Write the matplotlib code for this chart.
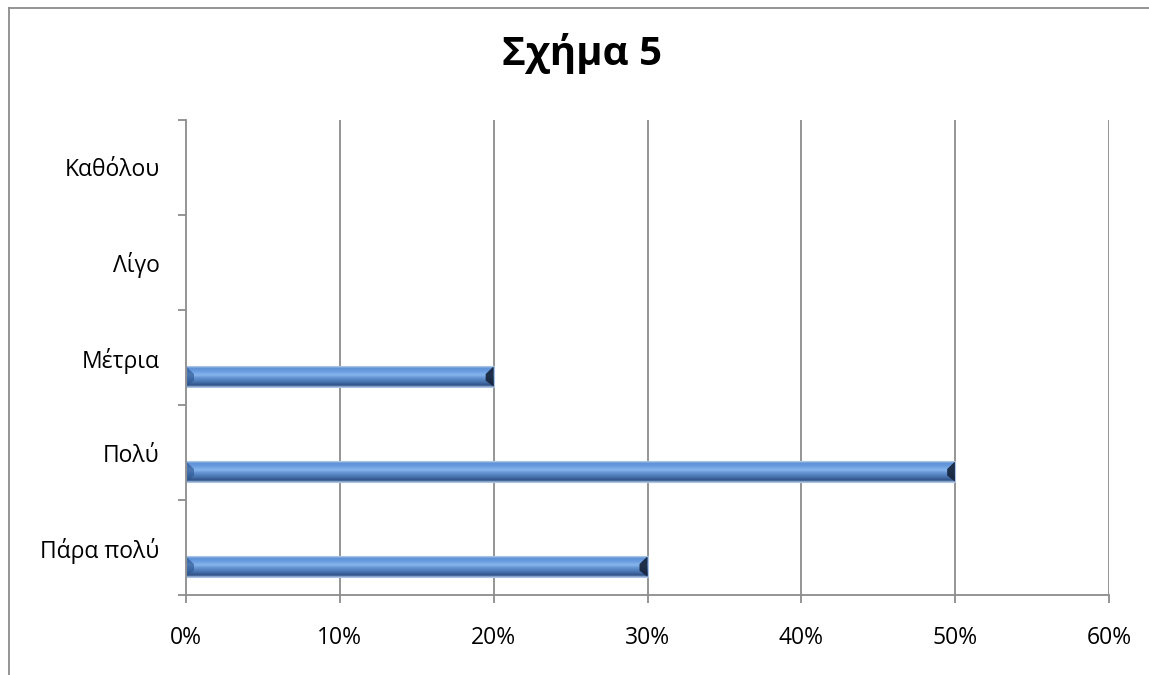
import numpy as np
import matplotlib
matplotlib.use("Agg")
import matplotlib.pyplot as plt
from matplotlib.colors import LinearSegmentedColormap
from matplotlib.patches import Polygon, Rectangle
from matplotlib.lines import Line2D

plt.rcParams['font.family'] = ['Open Sans', 'DejaVu Sans']

categories = ["Πάρα πολύ", "Πολύ", "Μέτρια", "Λίγο", "Καθόλου"]
values = [30, 50, 20, 0, 0]
xticks = [0, 10, 20, 30, 40, 50, 60]
xtick_labels = ["0%", "10%", "20%", "30%", "40%", "50%", "60%"]
title = "Σχήμα 5"

W, H = 1149, 675
fig = plt.figure(figsize=(W / 100, H / 100), dpi=100)
ax = fig.add_axes([186 / W, (H - 595) / H, (1109 - 186) / W, (595 - 120) / H])

# outer chart-area frame (left and top visible)
fig.add_artist(Line2D([9 / W, 9 / W], [0, (H - 8) / H], color="#8c8c8c", lw=1.3))
fig.add_artist(Line2D([9 / W, 1], [(H - 8) / H, (H - 8) / H], color="#8c8c8c", lw=1.3))

n = len(categories)
ax.set_xlim(0, 60)
ax.set_ylim(-0.5, n - 0.5)

# vertical gridlines
for xt in xticks[1:]:
    ax.axvline(xt, color="#8c8c8c", lw=1.3, zorder=1)

# gradient (top -> bottom)
grad_cmap = LinearSegmentedColormap.from_list(
    "bev", [(0.0, "#aac6ec"), (0.1, "#5d91d6"), (0.25, "#6a9de0"), (0.42, "#88b6ec"),
            (0.55, "#6595d5"), (0.75, "#4874b0"), (0.92, "#2f5187"), (1.0, "#9fb6d6")])
grad = np.linspace(0, 1, 64).reshape(-1, 1)

bar_h = 0.215
offset = -0.2
px_per_unit = (1109 - 186) / 60.0
cap = 8 / px_per_unit
for i, v in enumerate(values):
    if v <= 0:
        continue
    yc = i + offset
    y0, y1 = yc - bar_h / 2, yc + bar_h / 2
    ax.imshow(grad, cmap=grad_cmap, aspect="auto", extent=[0, v, y0, y1],
              origin="upper", interpolation="bilinear", zorder=3)
    # right bevel cap (dark)
    ax.add_patch(Polygon([(v, y1), (v - cap, yc + bar_h * 0.12), (v - cap, yc - bar_h * 0.2), (v, y0)],
                         closed=True, facecolor="#16243c", edgecolor="none", zorder=4, alpha=0.92))
    # left bevel cap
    ax.add_patch(Polygon([(0, y1), (cap, yc + bar_h * 0.12), (cap, yc - bar_h * 0.2), (0, y0)],
                         closed=True, facecolor="#2d568f", edgecolor="none", zorder=4, alpha=0.65))
    ax.add_patch(Rectangle((0, y0), v, bar_h, facecolor="none", edgecolor="#a9c3e6", lw=0.8, zorder=5))

ax.set_xticks(xticks)
ax.set_xticklabels(xtick_labels, fontsize=16.5, color="#000000")
ax.set_yticks(range(n))
ax.set_yticklabels(categories, fontsize=16.5, color="#000000")
ax.set_yticks(np.arange(-0.5, n, 1.0), minor=True)
ax.tick_params(axis="y", which="major", length=0, pad=19)
ax.tick_params(axis="y", which="minor", length=6, width=1.3, color="#8c8c8c", direction="out")
ax.tick_params(axis="x", which="major", length=6, width=1.3, color="#8c8c8c", direction="out", pad=16)

for s in ["top", "right"]:
    ax.spines[s].set_visible(False)
for s in ["left", "bottom"]:
    ax.spines[s].set_color("#8c8c8c")
    ax.spines[s].set_linewidth(1.3)
    ax.spines[s].set_zorder(6)

fig.text(582 / W, (H - 54) / H, title, ha="center", va="center", fontsize=29, fontweight="bold")

fig.savefig("out.png", dpi=100)
